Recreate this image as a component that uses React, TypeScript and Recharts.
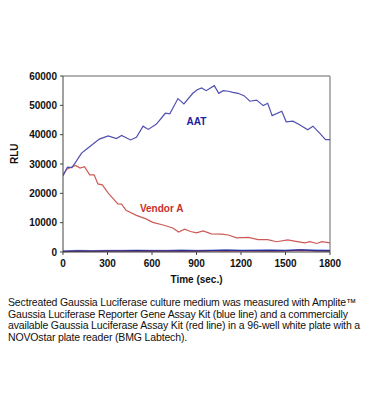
import { LineChart, Line, XAxis, YAxis, ReferenceLine, ReferenceDot } from "recharts";

// AAT (Amplite, blue line)
const aatTime = [0, 30, 60, 90, 125, 160, 190, 245, 305, 360, 395, 455, 495, 540, 575, 630, 690, 720, 775, 815, 875, 905, 935, 965, 1020, 1050, 1080, 1115, 1145, 1180, 1220, 1260, 1305, 1350, 1380, 1410, 1475, 1505, 1550, 1595, 1650, 1685, 1730, 1770, 1800];
const aatRlu = [26000, 28900, 28800, 31000, 33700, 35100, 36300, 38500, 39600, 38700, 39700, 38200, 39100, 42900, 41800, 43600, 47300, 47100, 52300, 50500, 54100, 55300, 55900, 55000, 56700, 54100, 55000, 54800, 54400, 54100, 53300, 51400, 51800, 49900, 50700, 46500, 48000, 44400, 44600, 43400, 41700, 42900, 40500, 38300, 38300];

// Vendor A (red line)
const vendorTime = [0, 25, 55, 85, 115, 145, 180, 210, 235, 265, 305, 335, 370, 395, 425, 495, 560, 605, 675, 740, 780, 820, 860, 900, 945, 1000, 1070, 1115, 1170, 1250, 1315, 1380, 1440, 1515, 1560, 1630, 1665, 1710, 1745, 1800];
const vendorRlu = [26300, 28200, 28900, 29500, 28600, 29100, 26300, 26300, 23200, 22900, 20100, 18400, 16400, 16300, 14200, 12500, 11300, 10100, 9200, 8200, 6800, 7800, 7000, 6500, 7200, 6200, 6100, 5800, 4800, 5000, 4200, 4200, 3500, 4100, 3700, 3100, 3500, 2900, 3500, 3100];

// background traces near zero
const blankTime = [0, 100, 200, 300, 400, 500, 600, 700, 800, 900, 1000, 1100, 1200, 1300, 1400, 1500, 1600, 1700, 1800];
const blankBlue = [200, 350, 300, 400, 350, 450, 400, 350, 500, 400, 450, 600, 450, 500, 550, 450, 700, 500, 450];
const blankLight = [300, 500, 450, 550, 500, 600, 550, 500, 650, 550, 600, 750, 600, 650, 700, 600, 800, 650, 600];
const blankRed = [100, 250, 200, 300, 250, 300, 350, 250, 400, 300, 350, 300, 400, 350, 300, 400, 550, 350, 300];

const xTicks = [0, 150, 300, 450, 600, 750, 900, 1050, 1200, 1350, 1500, 1650, 1800];
const yTicks = [0, 5000, 10000, 15000, 20000, 25000, 30000, 35000, 40000, 45000, 50000, 55000, 60000];

const aatData = aatTime.map((t, i) => ({ t, v: aatRlu[i] }));
const vendorData = vendorTime.map((t, i) => ({ t, v: vendorRlu[i] }));
const blankBlueData = blankTime.map((t, i) => ({ t, v: blankBlue[i] }));
const blankLightData = blankTime.map((t, i) => ({ t, v: blankLight[i] }));
const blankRedData = blankTime.map((t, i) => ({ t, v: blankRed[i] }));

const font = "'Liberation Sans', Arial, sans-serif";

function XTick(props: any) {
  const { x, y, payload } = props;
  if (payload.value % 300 !== 0) return null;
  return (
    <text x={x} y={y + 10} textAnchor="middle" fontSize={10} fontWeight="bold" fill="#111" fontFamily={font}>
      {payload.value}
    </text>
  );
}

function YTick(props: any) {
  const { x, y, payload } = props;
  if (payload.value % 10000 !== 0) return null;
  return (
    <text x={x - 1} y={y + 3.5} textAnchor="end" fontSize={10} fontWeight="bold" fill="#111" fontFamily={font}>
      {payload.value}
    </text>
  );
}

export default function App() {
  return (
    <div style={{ position: "absolute", left: 0, top: 0, width: 370, height: 419, background: "#fff", fontFamily: font }}>
      <LineChart width={370} height={290} margin={{ top: 76, right: 40, left: 8, bottom: 8 }}>
        <XAxis
          type="number"
          dataKey="t"
          domain={[0, 1800]}
          ticks={xTicks}
          allowDataOverflow
          height={30}
          tick={<XTick />}
          tickSize={3}
          axisLine={{ stroke: "#444" }}
          tickLine={{ stroke: "#444" }}
          label={{ value: "Time (sec.)", position: "insideBottom", offset: -1, fontSize: 10, fontWeight: "bold", fill: "#111", fontFamily: font }}
        />
        <YAxis
          type="number"
          dataKey="v"
          domain={[0, 60000]}
          ticks={yTicks}
          width={55}
          tick={<YTick />}
          tickSize={3}
          axisLine={{ stroke: "#444" }}
          tickLine={{ stroke: "#444" }}
          label={{ value: "RLU", angle: -90, position: "insideLeft", offset: 6, fontSize: 10, fontWeight: "bold", fill: "#111", fontFamily: font }}
        />
        <ReferenceLine y={60000} stroke="#999" strokeWidth={1.5} />
        <ReferenceLine x={1800} stroke="#999" strokeWidth={1.5} />
        <Line data={blankLightData} dataKey="v" stroke="#8c9ce0" strokeWidth={1.5} dot={false} isAnimationActive={false} />
        <Line data={blankRedData} dataKey="v" stroke="#c0304a" strokeWidth={1.2} dot={false} isAnimationActive={false} />
        <Line data={blankBlueData} dataKey="v" stroke="#2b2b8c" strokeWidth={1.2} dot={false} isAnimationActive={false} />
        <Line data={vendorData} dataKey="v" stroke="#cc5a56" strokeWidth={1.2} dot={false} isAnimationActive={false} />
        <Line data={aatData} dataKey="v" stroke="#4f4fb0" strokeWidth={1.2} dot={false} isAnimationActive={false} />
        <ReferenceDot
          x={900}
          y={44400}
          r={0}
          label={{ value: "AAT", position: "center", fontSize: 10, fontWeight: "bold", fill: "#2020a0", fontFamily: font }}
        />
        <ReferenceDot
          x={665}
          y={15000}
          r={0}
          label={{ value: "Vendor A", position: "center", fontSize: 10, fontWeight: "bold", fill: "#c8302c", fontFamily: font }}
        />
      </LineChart>
      <div
        style={{
          position: "absolute",
          left: 8,
          top: 297,
          width: 362,
          fontSize: 10.5,
          lineHeight: "11.7px",
          color: "#111",
          letterSpacing: -0.15,
          whiteSpace: "nowrap",
        }}
      >
        Sectreated Gaussia Luciferase culture medium was measured with Amplite™
        <br />
        Gaussia Luciferase Reporter Gene Assay Kit (blue line) and a commercially
        <br />
        available Gaussia Luciferase Assay Kit (red line) in a 96-well white plate with a
        <br />
        NOVOstar plate reader (BMG Labtech).
      </div>
    </div>
  );
}
